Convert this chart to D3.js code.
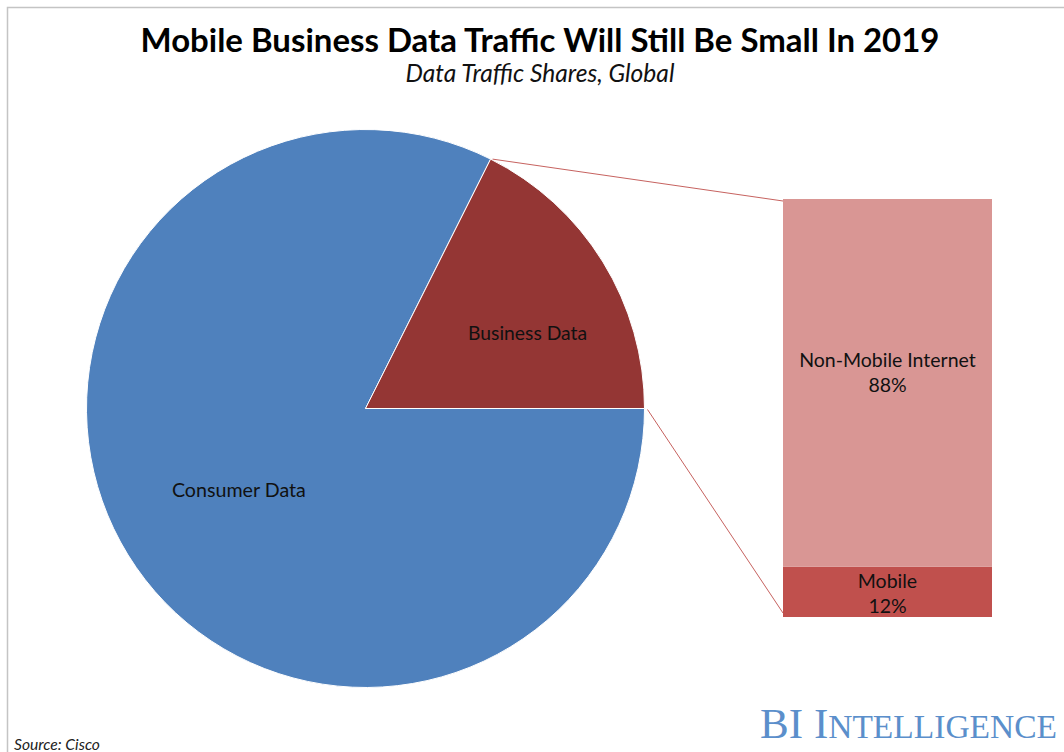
<!DOCTYPE html>
<html>
<head>
<meta charset="utf-8">
<script src="https://cdn.jsdelivr.net/npm/d3@7"></script>
<style>
  html, body { margin: 0; padding: 0; background: #fff; }
  svg { display: block; }
  text { font-family: Lato, "Open Sans", "Liberation Sans", sans-serif; }
  text.brand { font-family: "Liberation Serif", "DejaVu Serif", serif; }
</style>
</head>
<body>
<svg id="chart" width="1064" height="752"></svg>
<script>
// Global data traffic shares: the pie splits all traffic, the bar breaks down business traffic
const pieCategories = ["Consumer Data", "Business Data"];
const pieValues = [82.4, 17.6];
const barCategories = ["Mobile", "Non-Mobile Internet"];
const barValues = [12, 88];
const barLabels = ["12%", "88%"];

const title = "Mobile Business Data Traffic Will Still Be Small In 2019";
const subtitle = "Data Traffic Shares, Global";
const source = "Source: Cisco";

const pieColors = { "Consumer Data": "#4F81BD", "Business Data": "#943634" };
const barColors = { "Mobile": "#C0504D", "Non-Mobile Internet": "#D99694" };

const svg = d3.select("#chart");

// scale a text's font size so it spans a given width
function fitWidth(sel, width) {
  const node = sel.node();
  const fs = parseFloat(sel.attr("font-size"));
  const w = node.getComputedTextLength();
  if (w > 0) sel.attr("font-size", (fs * width / w).toFixed(2));
  return sel;
}

// frame
svg.append("path")
  .attr("d", "M7.5,752 V7.5 H1064")
  .attr("fill", "none")
  .attr("stroke", "#c4c4c4")
  .attr("stroke-width", 1.5);

// titles
fitWidth(svg.append("text")
  .attr("x", 540).attr("y", 52)
  .attr("text-anchor", "middle")
  .attr("font-size", 30).attr("font-weight", "bold")
  .attr("fill", "#000")
  .text(title), 799);

fitWidth(svg.append("text")
  .attr("x", 540).attr("y", 82)
  .attr("text-anchor", "middle")
  .attr("font-size", 20).attr("font-style", "italic")
  .attr("fill", "#111")
  .text(subtitle), 269);

// pie
const cx = 365.5, cy = 408.5, R = 279;
const pieData = pieCategories.map((c, i) => ({ cat: c, value: pieValues[i] }));
const pie = d3.pie().value(d => d.value).sort(null)
  .startAngle(Math.PI / 2).endAngle(Math.PI / 2 + 2 * Math.PI);
const arcs = pie(pieData);
const arc = d3.arc().innerRadius(0).outerRadius(R);

const gPie = svg.append("g").attr("transform", `translate(${cx},${cy})`);
gPie.selectAll("path.slice")
  .data(arcs)
  .join("path")
  .attr("class", "slice")
  .attr("d", arc)
  .attr("fill", d => pieColors[d.data.cat])
  .attr("stroke", "#ffffff")
  .attr("stroke-width", 1);

// slice labels placed along each slice's direction
const labelPlace = { "Consumer Data": { r: 0.54, da: -0.02 }, "Business Data": { r: 0.64, da: 0.12 } };
gPie.selectAll("text.slice-label")
  .data(arcs)
  .join("text")
  .attr("class", "slice-label")
  .attr("text-anchor", "middle")
  .attr("dy", "0.35em")
  .attr("font-size", 17)
  .attr("fill", "#111")
  .attr("x", d => {
    const p = labelPlace[d.data.cat];
    const a = (d.startAngle + d.endAngle) / 2 + p.da;
    return Math.sin(a) * R * p.r;
  })
  .attr("y", d => {
    const p = labelPlace[d.data.cat];
    const a = (d.startAngle + d.endAngle) / 2 + p.da;
    return -Math.cos(a) * R * p.r;
  })
  .text(d => d.data.cat)
  .each(function (d) {
    fitWidth(d3.select(this), d.data.cat === "Business Data" ? 119 : 134);
  });

// stacked breakdown bar
const y = d3.scaleLinear().domain([0, 100]).range([617, 199]);
const x = d3.scaleBand().domain(["Business Data"]).range([783, 992]).padding(0);
const stack = d3.stack().keys(barCategories)([
  Object.fromEntries(barCategories.map((c, i) => [c, barValues[i]]))
]);

const gBar = svg.append("g");
gBar.selectAll("rect")
  .data(stack)
  .join("rect")
  .attr("x", x("Business Data"))
  .attr("width", x.bandwidth())
  .attr("y", d => y(d[0][1]))
  .attr("height", d => y(d[0][0]) - y(d[0][1]))
  .attr("fill", d => barColors[d.key]);

// bar segment labels (category + share)
stack.forEach((s, i) => {
  const mid = (y(s[0][0]) + y(s[0][1])) / 2;
  const isSmall = barValues[i] < 20;
  const t = gBar.append("text")
    .attr("x", x("Business Data") + x.bandwidth() / 2)
    .attr("y", isSmall ? mid - 4 : mid - 16)
    .attr("text-anchor", "middle")
    .attr("font-size", 19.5)
    .attr("fill", "#111");
  t.append("tspan").text(barCategories[i]);
  t.append("tspan")
    .attr("x", x("Business Data") + x.bandwidth() / 2)
    .attr("dy", 25)
    .text(barLabels[i]);
});

// connector lines from the business slice to the bar
const biz = arcs.find(a => a.data.cat === "Business Data");
const pTop = [cx + Math.sin(biz.startAngle) * R, cy - Math.cos(biz.startAngle) * R];
const pBot = [cx + Math.sin(biz.endAngle) * R, cy - Math.cos(biz.endAngle) * R];
svg.append("line")
  .attr("x1", pTop[0] + 2).attr("y1", pTop[1])
  .attr("x2", x("Business Data")).attr("y2", y(100) + 2)
  .attr("stroke", "#C0504D").attr("stroke-width", 0.9);
svg.append("line")
  .attr("x1", pBot[0] + 3).attr("y1", pBot[1] + 1)
  .attr("x2", x("Business Data")).attr("y2", y(0) - 4)
  .attr("stroke", "#C0504D").attr("stroke-width", 0.9);

// brand mark
const brand = svg.append("text")
  .attr("class", "brand")
  .attr("x", 1057).attr("y", 738)
  .attr("text-anchor", "end")
  .attr("font-size", 36)
  .attr("fill", "#5B8FCB");
brand.append("tspan").attr("font-size", 36).text("BI I");
brand.append("tspan").attr("font-size", 28).text("NTELLIGENCE");
{
  const w = brand.node().getComputedTextLength();
  const k = 297 / w;
  brand.selectAll("tspan").each(function () {
    const s = d3.select(this);
    const fs = parseFloat(s.attr("font-size"));
    s.attr("font-size", (fs * k).toFixed(2));
  });
}

// source note
fitWidth(svg.append("text")
  .attr("x", 14).attr("y", 750)
  .attr("font-size", 13).attr("font-style", "italic")
  .attr("fill", "#222")
  .text(source), 86);
</script>
</body>
</html>
